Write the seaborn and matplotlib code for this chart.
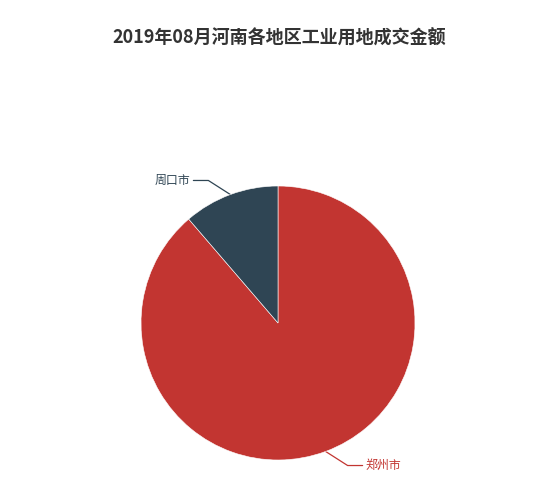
import numpy as np
import matplotlib
matplotlib.use("Agg")
import matplotlib.pyplot as plt
import seaborn as sns

title = "2019年08月河南各地区工业用地成交金额"
cities = ["郑州市", "周口市"]
values = [88.7, 11.3]
colors = ["#c23531", "#2f4554"]

sns.set_theme(style="white")
plt.rcParams['font.family'] = ['Noto Sans CJK SC', 'DejaVu Sans']

W, H = 550, 490
fig = plt.figure(figsize=(W / 100, H / 100), dpi=100)
fig.patch.set_facecolor("white")

cx, cy, r = 278, 323, 137
ax = fig.add_axes([(cx - r) / W, (H - cy - r) / H, 2 * r / W, 2 * r / H])
pal = sns.color_palette(colors)
wedges, _ = ax.pie(values, colors=pal, startangle=90, counterclock=False,
                   radius=1.0, wedgeprops=dict(edgecolor="white", linewidth=0.4))
ax.set_xlim(-1, 1)
ax.set_ylim(-1, 1)
ax.set_aspect("equal")
ax.axis("off")

px = 1.0 / r
len1, shift, len2, gap = 15 * px, 22 * px, 15 * px, 3 * px
for w, name, col in zip(wedges, cities, colors):
    mid = np.deg2rad((w.theta1 + w.theta2) / 2)
    x0, y0 = np.cos(mid), np.sin(mid)
    sgn = 1 if x0 >= 0 else -1
    y1 = (1 + len1) * y0
    x1 = x0 + sgn * shift
    x2 = x1 + sgn * len2
    ax.plot([x0, x1, x2], [y0, y1, y1], color=col, lw=0.9, clip_on=False,
            zorder=0)
    ax.text(x2 + sgn * gap, y1, name, color=col, fontsize=8.6,
            ha="left" if sgn > 0 else "right", va="center", clip_on=False)

fig.text(279 / W, 1 - 38 / H, title, ha="center", va="center",
         fontsize=13, fontweight="bold", color="#333333")

fig.savefig("out.png", dpi=100)
